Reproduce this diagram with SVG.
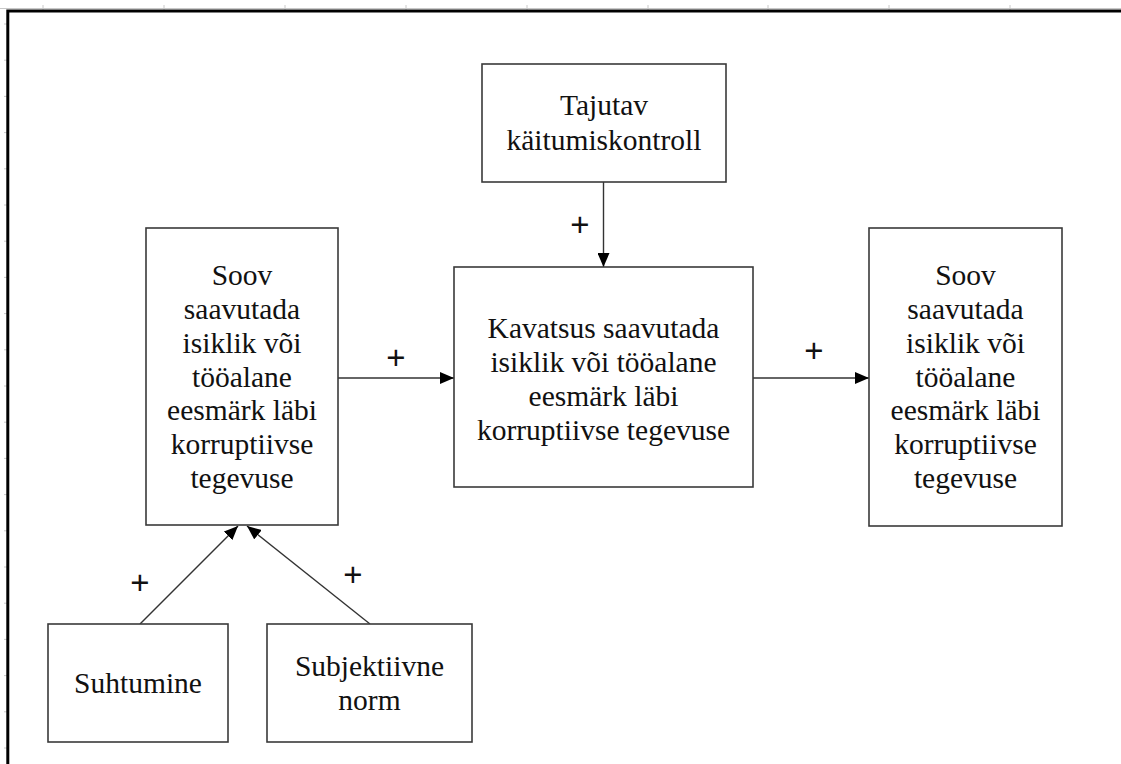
<svg xmlns="http://www.w3.org/2000/svg" width="1121" height="764" viewBox="0 0 1121 764">
  <style>
    .box { fill: #ffffff; stroke: #3a3a3a; stroke-width: 1.6; }
    .lbl { font-family: "Liberation Serif", "Times New Roman", serif; font-size: 29.5px; fill: #111; text-anchor: middle; }
    .plus { font-family: "Liberation Sans", Arial, sans-serif; font-size: 33px; fill: #111; text-anchor: middle; }
    .conn { stroke: #333; stroke-width: 1.4; fill: none; marker-end: url(#arrow); }
    .tick { stroke: #c8c8c8; stroke-width: 1; }
  </style>
  <defs>
    <marker id="arrow" viewBox="0 0 14 12" refX="14" refY="6" markerWidth="14" markerHeight="12" markerUnits="userSpaceOnUse" orient="auto">
      <path d="M0,0 L14,6 L0,12 Z" fill="#000"/>
    </marker>
  </defs>
  <rect x="0" y="0" width="1121" height="764" fill="#ffffff"/>

  <g id="ruler">
    <line class="tick" x1="0" y1="8.5" x2="1121" y2="8.5"/>
    <line class="tick" x1="43" y1="5" x2="43" y2="10"/>
    <line class="tick" x1="164" y1="5" x2="164" y2="10"/>
    <line class="tick" x1="285" y1="5" x2="285" y2="10"/>
    <line class="tick" x1="406" y1="5" x2="406" y2="10"/>
    <line class="tick" x1="527" y1="5" x2="527" y2="10"/>
    <line class="tick" x1="648" y1="5" x2="648" y2="10"/>
    <line class="tick" x1="768" y1="5" x2="768" y2="10"/>
    <line class="tick" x1="889" y1="5" x2="889" y2="10"/>
    <line class="tick" x1="1010" y1="5" x2="1010" y2="10"/>
    <path class="tick" d="M4,24h3M4,60.2h3M4,96.4h3M4,132.6h3M4,168.8h3M4,205h3M4,241.2h3M4,277.4h3M4,313.6h3M4,349.8h3M4,386h3M4,422.2h3M4,458.4h3M4,494.6h3M4,530.8h3M4,567h3M4,603.2h3M4,639.4h3M4,675.6h3M4,711.8h3M4,748h3"/>
  </g>

  <path id="frame" d="M7.8,764 V11 H1121" fill="none" stroke="#000" stroke-width="3"/>

  <g id="connectors">
    <line class="conn" x1="603.5" y1="182" x2="603.5" y2="267"/>
    <line class="conn" x1="338" y1="378" x2="454" y2="378"/>
    <line class="conn" x1="753" y1="378" x2="869" y2="378"/>
    <line class="conn" x1="140" y1="624" x2="238" y2="526"/>
    <line class="conn" x1="370" y1="624" x2="247" y2="526"/>
    <text class="plus" x="580" y="235.5">+</text>
    <text class="plus" x="396" y="368.5">+</text>
    <text class="plus" x="814" y="361.5">+</text>
    <text class="plus" x="140" y="593.5">+</text>
    <text class="plus" x="353" y="585.5">+</text>
  </g>

  <g id="node-tajutav">
    <rect class="box" x="482" y="64" width="244" height="118"/>
    <text class="lbl" x="604" y="115">Tajutav</text>
    <text class="lbl" x="604" y="150">käitumiskontroll</text>
  </g>

  <g id="node-soov-left">
    <rect class="box" x="146" y="228" width="192" height="297"/>
    <text class="lbl" x="242" y="285">Soov</text>
    <text class="lbl" x="242" y="319">saavutada</text>
    <text class="lbl" x="242" y="353">isiklik või</text>
    <text class="lbl" x="242" y="387">tööalane</text>
    <text class="lbl" x="242" y="420">eesmärk läbi</text>
    <text class="lbl" x="242" y="454">korruptiivse</text>
    <text class="lbl" x="242" y="488">tegevuse</text>
  </g>

  <g id="node-kavatsus">
    <rect class="box" x="454" y="267" width="299" height="220"/>
    <text class="lbl" x="603.5" y="338">Kavatsus saavutada</text>
    <text class="lbl" x="603.5" y="372">isiklik või tööalane</text>
    <text class="lbl" x="603.5" y="406">eesmärk läbi</text>
    <text class="lbl" x="603.5" y="440">korruptiivse tegevuse</text>
  </g>

  <g id="node-soov-right">
    <rect class="box" x="869" y="228" width="193" height="298"/>
    <text class="lbl" x="965.5" y="285">Soov</text>
    <text class="lbl" x="965.5" y="319">saavutada</text>
    <text class="lbl" x="965.5" y="353">isiklik või</text>
    <text class="lbl" x="965.5" y="387">tööalane</text>
    <text class="lbl" x="965.5" y="420">eesmärk läbi</text>
    <text class="lbl" x="965.5" y="454">korruptiivse</text>
    <text class="lbl" x="965.5" y="488">tegevuse</text>
  </g>

  <g id="node-suhtumine">
    <rect class="box" x="48" y="624" width="180" height="118"/>
    <text class="lbl" x="138" y="693">Suhtumine</text>
  </g>

  <g id="node-subjektiivne">
    <rect class="box" x="267" y="624" width="205" height="118"/>
    <text class="lbl" x="369.5" y="676">Subjektiivne</text>
    <text class="lbl" x="369.5" y="710">norm</text>
  </g>
</svg>
